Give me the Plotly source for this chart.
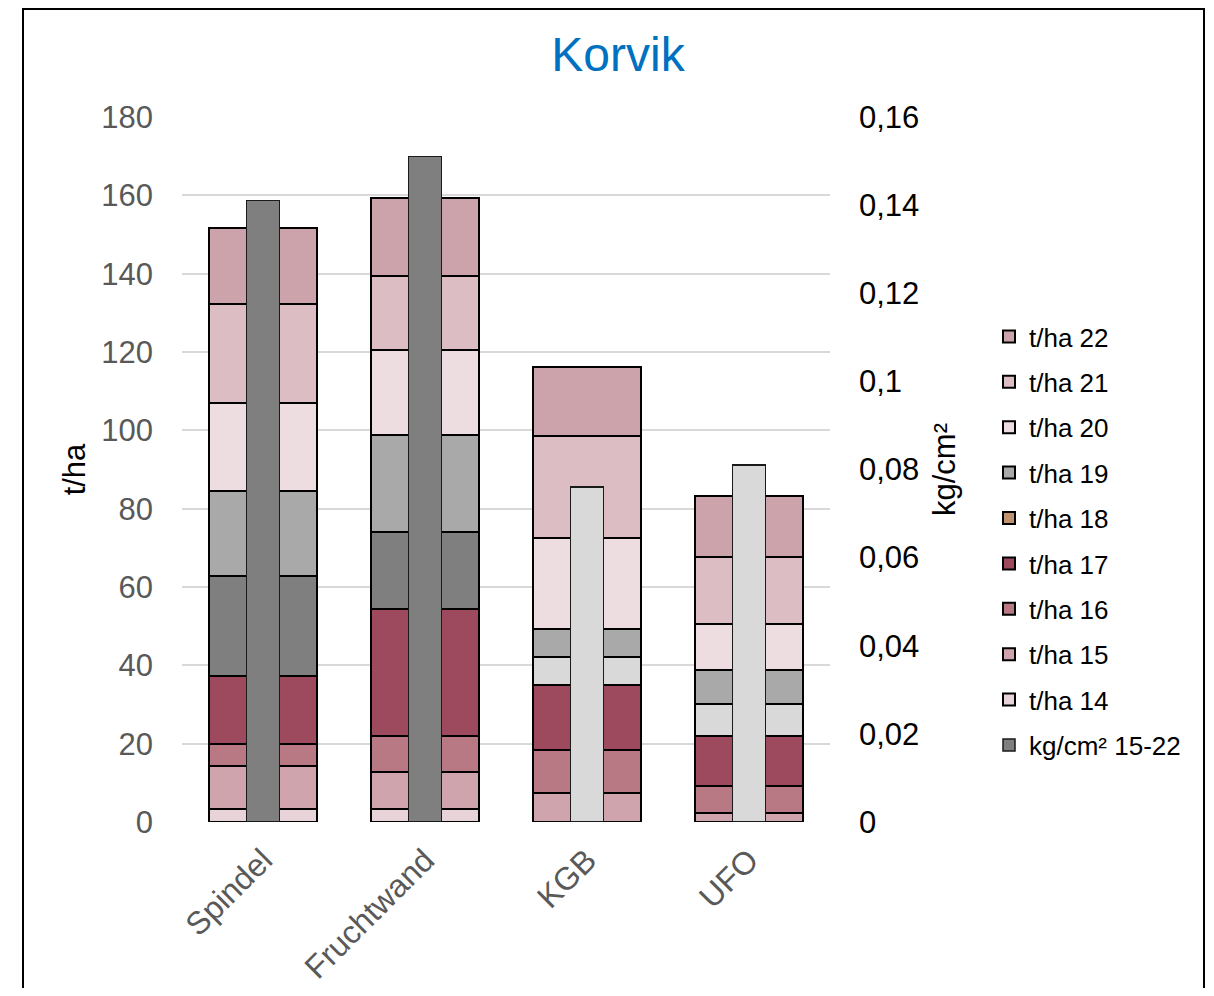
import plotly.graph_objects as go

categories = ["Spindel", "Fruchtwand", "KGB", "UFO"]

t14 = [3.4, 3.3, 0, 0]
t15 = [11.0, 9.5, 7.5, 2.3]
t16 = [5.5, 9.1, 11.0, 6.8]
t17 = [17.4, 32.6, 16.5, 12.9]
t18 = [25.6, 19.6, 7.1, 8.2]
t19 = [21.5, 24.7, 7.2, 8.7]
t20 = [22.6, 21.6, 23.2, 11.7]
t21 = [25.2, 19.1, 26.0, 17.0]
t22 = [19.5, 19.8, 17.7, 15.7]
kg_15_22 = [0.141, 0.151, 0.076, 0.081]

y_ticks = [0, 20, 40, 60, 80, 100, 120, 140, 160, 180]
y2_tickvals = [0, 0.02, 0.04, 0.06, 0.08, 0.10, 0.12, 0.14, 0.16]
y2_ticktext = ["0", "0,02", "0,04", "0,06", "0,08", "0,1", "0,12", "0,14", "0,16"]

FONT = "Liberation Sans, Arial, sans-serif"

series = [
    ("t/ha 14", t14, "#E8D4D8"),
    ("t/ha 15", t15, "#CFA4AD"),
    ("t/ha 16", t16, "#B87884"),
    ("t/ha 17", t17, "#9E4A5E"),
    ("t/ha 18", t18, ["#7F7F7F", "#7F7F7F", "#D9D9D9", "#D9D9D9"]),
    ("t/ha 19", t19, "#A9A9A9"),
    ("t/ha 20", t20, "#EDDDE1"),
    ("t/ha 21", t21, "#DCBDC3"),
    ("t/ha 22", t22, "#CCA3AB"),
]
rank = {"t/ha 22": 1, "t/ha 21": 2, "t/ha 20": 3, "t/ha 19": 4, "t/ha 18": 5,
        "t/ha 17": 6, "t/ha 16": 7, "t/ha 15": 8, "t/ha 14": 9}

fig = go.Figure()
for name, vals, col in series:
    is18 = name == "t/ha 18"
    fig.add_trace(go.Bar(
        x=categories, y=vals, name=name, width=0.667,
        marker=dict(color=col, line=dict(color="#000000", width=2)),
        showlegend=not is18, legendrank=rank[name], legendgroup="g" + name,
        yaxis="y",
    ))
    if is18:
        fig.add_trace(go.Bar(
            x=[categories[0]], y=[None], name=name, width=0.667,
            marker=dict(color="#BF9270", line=dict(color="#000000", width=2)),
            showlegend=True, legendrank=rank[name], legendgroup="g" + name + "_leg",
            yaxis="y",
        ))

fig.add_trace(go.Bar(
    x=categories, y=kg_15_22, name="kg/cm² 15-22", width=0.205,
    marker=dict(color=["#7F7F7F", "#7F7F7F", "#D9D9D9", "#D9D9D9"],
                line=dict(color="#1a1a1a", width=1.5)),
    legendrank=10, legendgroup="gkg", yaxis="y2",
))

# page has an 8px body margin: work in page coords, convert to figure coords
OFF = 8
W, H = 1214 - 2 * OFF, 996 - 2 * OFF
L, R, T, B = 182 - OFF, 830 - OFF, 117 - OFF, 822 - OFF
pw, ph = R - L, B - T

def px(xp):
    return (xp - OFF - L) / pw

def py(yp):
    return (B - (yp - OFF)) / ph

fig.update_layout(
    width=W, height=H,
    margin=dict(l=L, r=W - R, t=T, b=H - B, pad=0, autoexpand=False),
    barmode="stack",
    paper_bgcolor="white", plot_bgcolor="white",
    font=dict(family=FONT, color="#000000"),
    title=dict(text="Korvik", x=px(618), xanchor="center", xref="paper",
               y=1 - (54 - OFF) / H, yanchor="middle",
               font=dict(size=48, color="#0070C0", family=FONT)),
    xaxis=dict(
        range=[-0.5, 3.5], showgrid=False, showline=False, zeroline=False,
        tickangle=-45, tickfont=dict(size=32, color="#595959"),
        ticks="", ticklabelstandoff=12, automargin=False,
    ),
    yaxis=dict(
        range=[0, 180], tickvals=y_ticks, showgrid=True,
        gridcolor="#D9D9D9", gridwidth=1.5, zeroline=False, showline=False,
        tickfont=dict(size=31, color="#595959"), ticks="", ticklabelstandoff=28,
        title=dict(text="t/ha", font=dict(size=31, color="#000000"), standoff=6),
        automargin=False,
    ),
    yaxis2=dict(
        range=[0, 0.16], tickvals=y2_tickvals, ticktext=y2_ticktext,
        overlaying="y", side="right", showgrid=False, zeroline=False, showline=False,
        tickfont=dict(size=31, color="#000000"), ticks="", ticklabelstandoff=28,
        title=dict(text="kg/cm²", font=dict(size=31, color="#000000"), standoff=14),
        automargin=False,
    ),
    legend=dict(
        x=px(989), xanchor="left", y=py(313), yanchor="top",
        traceorder="grouped", font=dict(size=26, color="#000000"),
        tracegroupgap=8.6, itemwidth=30, bgcolor="rgba(0,0,0,0)",
    ),
    showlegend=True,
)

fig.add_shape(type="rect", xref="paper", yref="paper",
              x0=px(23), x1=px(OFF + W - 2), y0=py(1010), y1=py(OFF + 1),
              line=dict(color="#000000", width=2), fillcolor="rgba(0,0,0,0)",
              layer="below")

fig.write_html("out.html")
